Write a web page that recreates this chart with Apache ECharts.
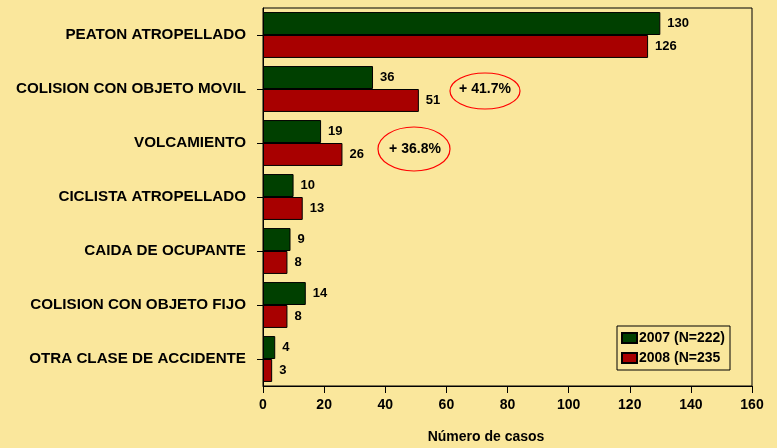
<!DOCTYPE html>
<html>
<head>
<meta charset="utf-8">
<script src="https://cdn.jsdelivr.net/npm/echarts@6/dist/echarts.min.js"></script>
<style>
  html, body { margin: 0; padding: 0; background: #fae79c; }
  #chart { width: 777px; height: 448px; }
</style>
</head>
<body>
<div id="chart"></div>
<script>
const categorias = [
  'PEATON ATROPELLADO',
  'COLISION CON OBJETO MOVIL',
  'VOLCAMIENTO',
  'CICLISTA ATROPELLADO',
  'CAIDA DE OCUPANTE',
  'COLISION CON OBJETO FIJO',
  'OTRA CLASE DE ACCIDENTE'
]
const casos2007 = [130, 36, 19, 10, 9, 14, 4]
const casos2008 = [126, 51, 26, 13, 8, 8, 3]
const nombres = ['2007 (N=222)', '2008 (N=235']
const notas = ['+ 41.7%', '+ 36.8%']

const font = 'Liberation Sans, Arial, sans-serif'
const chart = echarts.init(document.getElementById('chart'), null, { renderer: 'canvas' })

const etiqueta = {
  show: true,
  position: 'right',
  distance: 7,
  color: '#000',
  fontFamily: font,
  fontWeight: 'bold',
  fontSize: 13,
}

const option = {
  backgroundColor: '#fae79c',
  animation: false,
  grid: {
    left: 263, right: 25, top: 8, bottom: 62,
    show: true, borderColor: '#000', borderWidth: 1, backgroundColor: 'transparent',
  },
  legend: {
    orient: 'vertical',
    left: 617, top: 326,
    padding: [5, 5, 5, 4],
    itemWidth: 15, itemHeight: 10, itemGap: 6,
    borderColor: '#000', borderWidth: 1,
    backgroundColor: '#fae79c',
    icon: 'rect',
    textStyle: { color: '#000', fontFamily: font, fontWeight: 'bold', fontSize: 14, padding: [0, 0, 0, -3] },
  },
  xAxis: {
    type: 'value',
    min: 0, max: 160, interval: 20,
    axisLine: { show: true, lineStyle: { color: '#000' } },
    axisTick: { show: true, length: 7, lineStyle: { color: '#000' } },
    splitLine: { show: false },
    axisLabel: { color: '#000', fontFamily: font, fontWeight: 'bold', fontSize: 14, margin: 12 },
  },
  yAxis: {
    type: 'category',
    data: categorias,
    inverse: true,
    axisLine: { show: true, lineStyle: { color: '#000' } },
    axisTick: { show: true, alignWithLabel: true, length: 6, lineStyle: { color: '#000' } },
    axisLabel: { color: '#000', fontFamily: font, fontWeight: 'bold', fontSize: 15.2, margin: 17 },
  },
  series: [
    {
      name: nombres[0], type: 'bar', data: casos2007,
      barGap: '0%', barCategoryGap: '15%',
      itemStyle: { color: '#004000', borderColor: '#000', borderWidth: 1 },
      label: etiqueta,
    },
    {
      name: nombres[1], type: 'bar', data: casos2008,
      barGap: '0%', barCategoryGap: '15%',
      itemStyle: { color: '#a80000', borderColor: '#000', borderWidth: 1 },
      label: etiqueta,
    },
  ],
  graphic: [
    {
      type: 'ellipse', shape: { cx: 485, cy: 91, rx: 35, ry: 18 },
      style: { fill: 'none', stroke: '#ff0000', lineWidth: 1.2 },
    },
    {
      type: 'text', x: 485, y: 89,
      style: { text: notas[0], fill: '#000', font: 'bold 14px ' + font, align: 'center', verticalAlign: 'middle' },
    },
    {
      type: 'ellipse', shape: { cx: 414, cy: 149, rx: 36, ry: 22 },
      style: { fill: 'none', stroke: '#ff0000', lineWidth: 1.2 },
    },
    {
      type: 'text', x: 415, y: 149,
      style: { text: notas[1], fill: '#000', font: 'bold 14px ' + font, align: 'center', verticalAlign: 'middle' },
    },
    {
      type: 'text', x: 486, y: 437,
      style: { text: 'Número de casos', fill: '#000', font: 'bold 14px ' + font, align: 'center', verticalAlign: 'middle' },
    },
  ],
}

chart.setOption(option)
window.addEventListener('resize', () => chart.resize())
</script>
</body>
</html>
